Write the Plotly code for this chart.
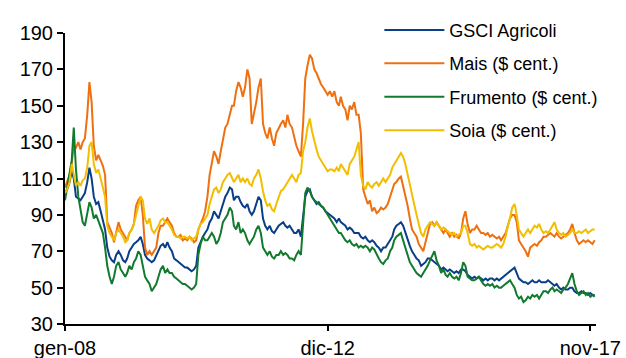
import pandas as pd
import plotly.graph_objects as go

# Semi-monthly observation dates (1st and 16th of each month), Jan 2008 - Dec 2017
dates = []
for y in range(2008, 2018):
    for mo in range(1, 13):
        for d in (1, 16):
            dt = pd.Timestamp(year=y, month=mo, day=d)
            if dt <= pd.Timestamp("2017-12-01"):
                dates.append(dt)

# Index values (Jan 2008 = ~100)
gsci = (
    [102,104,108,114,110,100,99,98,100,102,108,116,110,100,96,97,92,86,82,72,67,65,64,68]
    + [70,68,65,64,66,70,72,74,75,76,78,74,68,66,65,64,65,68,70,73,74,72,75,72]
    + [70,66,65,64,63,62,61,61,60,59,60,62,72,75,78,80,82,86,88,92,90,88,92,96]
    + [100,102,105,104,98,100,100,97,95,94,96,92,90,92,96,100,98,88,84,82,84,81,80,82]
    + [84,85,86,84,83,84,82,80,80,82,78,90,100,103,104,100,98,96,97,95,94,92,91,90]
    + [89,88,86,88,86,85,84,82,83,82,80,80,80,78,77,78,76,75,76,75,73,72,70,72]
    + [72,74,76,78,82,84,85,86,84,80,76,73,70,68,66,65,62,63,64,66,66,65,64,63]
    + [62,60,61,60,59,60,59,58,59,58,60,60,59,57,56,55,56,55,56,55,54,55,54,55]
    + [55,54,55,54,55,56,57,58,59,60,61,58,55,54,53,53,52,53,54,53,53,54,53,53]
    + [53,54,53,52,51,52,50,49,50,49,49,50,50,48,47,47,48,47,47,46,47,46,46]
)

mais = (
    [105,108,112,118,128,127,130,126,130,132,145,163,152,128,120,123,120,117,112,86,83,80,75,80]
    + [86,82,80,78,76,80,82,85,95,98,100,90,72,68,70,68,70,72,80,84,84,86,88,86]
    + [84,80,78,78,79,76,77,76,78,77,75,76,82,85,88,92,100,112,118,125,122,118,125,132]
    + [138,140,145,150,150,158,163,160,155,160,170,165,140,145,152,160,165,140,135,132,138,132,128,135]
    + [138,140,142,138,145,140,138,132,128,125,122,140,165,172,178,176,170,168,165,162,160,158,156,158]
    + [155,158,152,150,155,150,148,142,150,148,152,145,145,135,104,100,96,98,92,94,91,92,94,93]
    + [94,96,100,104,107,108,110,111,106,100,95,88,82,80,78,74,72,70,75,80,85,86,84,86]
    + [84,82,80,82,80,78,80,78,79,77,80,88,92,85,80,82,82,84,82,80,80,79,80,78]
    + [79,78,77,78,76,78,80,84,88,90,90,86,76,74,72,70,67,72,73,74,73,75,76,78]
    + [78,79,80,79,78,80,78,77,78,79,80,82,85,80,76,74,75,76,75,76,75,74,76]
)

frumento = (
    [98,106,112,120,138,115,100,92,86,84,90,97,94,88,90,87,84,80,72,62,56,52,56,62]
    + [64,60,58,56,58,62,60,64,66,70,68,62,56,54,52,48,50,52,56,60,62,58,60,58]
    + [58,56,55,54,53,52,52,51,50,49,50,52,68,74,78,76,76,78,80,78,74,76,80,86]
    + [88,90,94,92,84,82,86,80,82,80,76,74,76,78,82,84,80,72,70,68,70,67,66,68]
    + [68,70,68,69,68,66,66,65,68,70,68,88,102,105,103,100,98,97,96,95,94,92,90,88]
    + [86,84,82,80,80,78,76,75,76,74,73,74,72,73,72,73,72,70,72,71,68,66,64,63]
    + [65,66,70,72,76,78,79,80,76,72,68,64,62,60,58,57,56,58,60,62,65,68,70,65]
    + [62,58,60,57,56,58,56,55,56,54,58,64,62,56,55,54,54,55,56,54,52,51,52,51]
    + [52,50,51,50,50,51,52,53,54,52,50,46,44,45,42,43,45,44,46,45,46,44,46,48]
    + [48,47,49,50,48,49,48,47,49,50,52,55,58,52,48,46,47,48,46,47,45,46,45]
)

soia = (
    [102,104,108,118,112,106,108,106,109,110,116,128,130,118,113,115,110,104,100,84,80,78,76,80]
    + [82,80,78,75,76,80,82,85,90,95,100,98,88,85,88,82,80,82,84,87,88,86,86,84]
    + [82,79,78,78,77,78,78,77,78,76,77,78,82,85,86,88,90,96,100,104,105,102,104,108]
    + [110,112,113,110,108,110,112,108,110,108,110,107,106,110,112,115,110,103,98,95,96,93,92,96]
    + [100,103,104,106,108,110,112,110,108,112,113,125,130,138,143,136,130,126,122,120,118,116,114,115]
    + [115,114,116,114,118,116,114,112,118,120,122,126,130,112,106,104,108,106,105,107,108,106,108,110]
    + [108,110,112,116,118,120,122,124,122,118,112,106,100,95,90,85,80,78,82,84,86,85,84,86]
    + [84,82,83,82,81,80,79,80,78,79,80,84,84,80,74,73,74,72,73,72,71,72,73,72]
    + [72,73,74,73,72,74,78,84,88,94,96,90,82,80,78,80,82,80,82,84,83,85,82,80]
    + [81,80,82,84,86,82,80,79,80,78,79,80,82,80,80,81,80,81,82,80,81,82,82]
)

series = [
    ("GSCI Agricoli", gsci, "#0A3F87"),
    ("Mais ($ cent.)", mais, "#EE7011"),
    ("Frumento ($ cent.)", frumento, "#127A2E"),
    ("Soia ($ cent.)", soia, "#F2BE00"),
]

tick_dates = ["2008-01-01", "2012-12-01", "2017-11-01"]
tick_text = ["gen-08", "dic-12", "nov-17"]

FONT = "Arial, Liberation Sans, sans-serif"

fig = go.Figure()
for name, vals, color in series:
    fig.add_trace(go.Scatter(
        x=dates, y=vals, name=name, mode="lines",
        line=dict(color=color, width=2),
        legendgroup=name,
    ))

fig.update_layout(
    width=626, height=358,
    margin=dict(l=65, r=30, t=24, b=34),
    paper_bgcolor="white", plot_bgcolor="white",
    font=dict(family=FONT, color="#000000"),
    showlegend=True,
    legend=dict(
        x=0.592, y=1.073, xanchor="left", yanchor="top",
        font=dict(family=FONT, size=18, color="#000000"),
        bgcolor="rgba(0,0,0,0)",
        tracegroupgap=7,
        itemwidth=60,
    ),
    xaxis=dict(
        type="date",
        range=["2008-01-01", "2017-12-10"],
        tickvals=tick_dates, ticktext=tick_text,
        showgrid=False, zeroline=False, automargin=False,
        showline=True, linecolor="#000000", linewidth=2,
        ticks="outside", ticklen=5, tickwidth=1.5, tickcolor="#000000",
        tickfont=dict(family=FONT, size=20, color="#000000"),
    ),
    yaxis=dict(
        range=[30, 190], dtick=20, tick0=30,
        showgrid=False, zeroline=False, automargin=False,
        showline=True, linecolor="#000000", linewidth=2,
        ticks="outside", ticklen=6, tickwidth=1.5, tickcolor="#000000",
        tickfont=dict(family=FONT, size=20, color="#000000"),
    ),
)

fig.write_html("out.html")
